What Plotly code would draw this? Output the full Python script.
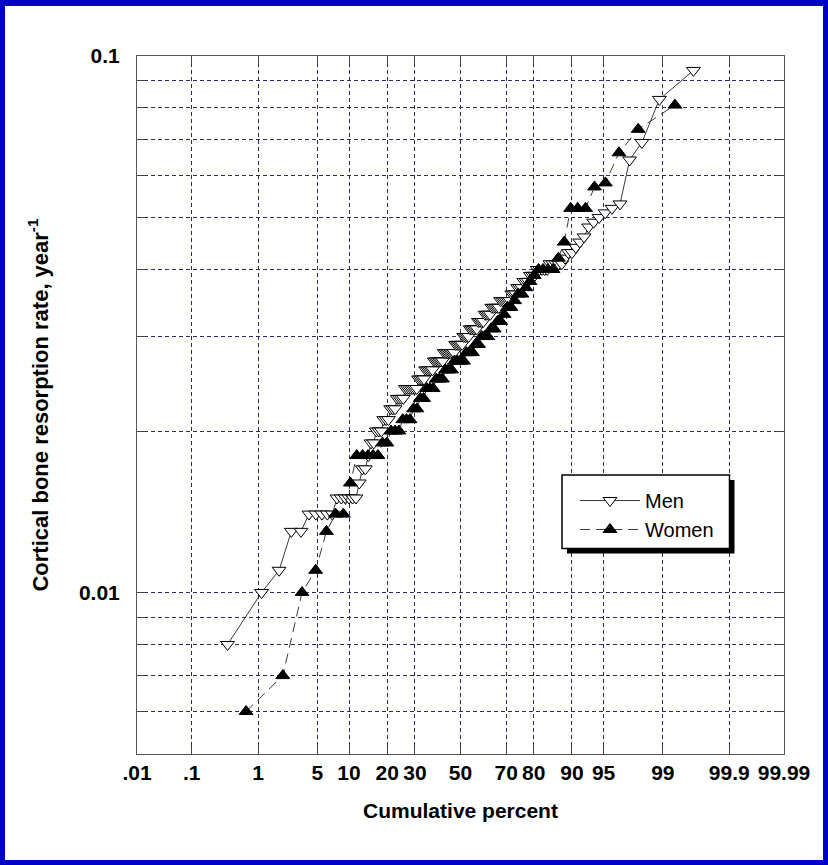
import math
import statistics
import plotly.graph_objects as go

# ---------------- data ----------------
men_rate = [
    0.008, 0.010, 0.011, 0.013, 0.013,
    0.014, 0.014, 0.014, 0.014, 0.014,
    0.015, 0.015, 0.015, 0.015, 0.015, 0.015,
    0.016, 0.017, 0.017, 0.018,
    0.019, 0.019, 0.020, 0.020, 0.020,
    0.021, 0.021, 0.021, 0.022, 0.022,
    0.022, 0.023, 0.023, 0.023, 0.023,
    0.024, 0.024, 0.024, 0.024, 0.024,
    0.024, 0.024, 0.025, 0.025, 0.025,
    0.025, 0.026, 0.026, 0.026, 0.026,
    0.026, 0.027, 0.027, 0.027, 0.027,
    0.027, 0.027, 0.028, 0.028, 0.028,
    0.028, 0.028, 0.028, 0.028, 0.029,
    0.029, 0.029, 0.029, 0.029, 0.030,
    0.030, 0.030, 0.030, 0.031, 0.031,
    0.031, 0.031, 0.031, 0.032, 0.032,
    0.032, 0.032, 0.033, 0.033, 0.033,
    0.033, 0.034, 0.034, 0.034, 0.034,
    0.034, 0.035, 0.035, 0.035, 0.035,
    0.035, 0.035, 0.036, 0.036, 0.036,
    0.037, 0.037, 0.037, 0.038, 0.038,
    0.038, 0.039, 0.039, 0.039, 0.040,
    0.040, 0.040, 0.040, 0.040, 0.041,
    0.041, 0.041, 0.041, 0.041, 0.042,
    0.043, 0.043, 0.044, 0.045, 0.046,
    0.048, 0.049, 0.050, 0.051, 0.052,
    0.053, 0.064, 0.069, 0.083, 0.094,
]

women_rate = [
    0.006, 0.007, 0.010, 0.011, 0.013,
    0.014, 0.014, 0.016, 0.018, 0.018,
    0.018, 0.018, 0.018, 0.019, 0.019,
    0.020, 0.020, 0.020, 0.021, 0.021,
    0.021, 0.022, 0.022, 0.023, 0.023,
    0.024, 0.024, 0.024, 0.025, 0.025,
    0.025, 0.026, 0.026, 0.026, 0.027,
    0.027, 0.027, 0.027, 0.028, 0.028,
    0.028, 0.029, 0.029, 0.030, 0.030,
    0.030, 0.031, 0.031, 0.032, 0.032,
    0.033, 0.034, 0.034, 0.035, 0.036,
    0.036, 0.037, 0.038, 0.039, 0.040,
    0.040, 0.040, 0.040, 0.042, 0.045,
    0.052, 0.052, 0.052, 0.057, 0.058,
    0.066, 0.073, 0.081,
]

pct_ticks = [0.01, 0.1, 1, 5, 10, 20, 30, 50, 70, 80, 90, 95, 99, 99.9, 99.99]
pct_labels = [".01", ".1", "1", "5", "10", "20", "30", "50", "70", "80", "90", "95", "99", "99.9", "99.99"]
y_grid = [0.006, 0.007, 0.008, 0.009, 0.01, 0.02, 0.03, 0.04, 0.05,
          0.06, 0.07, 0.08, 0.09, 0.1]
y_labeled = {0.01: "0.01", 0.1: "0.1"}

# ---------------- probability scale ----------------
nd = statistics.NormalDist()


def probit(p):
    return nd.inv_cdf(p / 100.0)


def cumulative_percent(values):
    n = len(values)
    return [(i + 0.5) / n * 100.0 for i in range(n)]


men_pct = cumulative_percent(sorted(men_rate))
women_pct = cumulative_percent(sorted(women_rate))

W, H = 828, 865
ML, MR, MT, MB = 137, 44, 56, 111
PW, PH = W - ML - MR, H - MT - MB


def px(x):
    return (x - ML) / PW


def py(y):
    return (H - MB - y) / PH


FONT = "Liberation Sans, Arial, sans-serif"
GRID = "#2b2b6e"

fig = go.Figure()
fig.add_trace(go.Scatter(
    x=[probit(p) for p in men_pct], y=sorted(men_rate),
    name="Men", mode="lines+markers",
    line=dict(color="#3a3a3a", width=1),
    marker=dict(symbol="triangle-down", size=12, color="white",
                line=dict(color="black", width=1)),
))
fig.add_trace(go.Scatter(
    x=[probit(p) for p in women_pct], y=sorted(women_rate),
    name="Women", mode="lines+markers",
    line=dict(color="#3a3a3a", width=1, dash="10px,6px"),
    marker=dict(symbol="triangle-up", size=12, color="black",
                line=dict(color="black", width=1)),
))

shapes = []
# legend shadow + box
shapes.append(dict(type="rect", xref="paper", yref="paper",
                   x0=px(567), x1=px(734.5), y0=py(553.5), y1=py(480),
                   fillcolor="black", line=dict(width=0), layer="above"))
shapes.append(dict(type="rect", xref="paper", yref="paper",
                   x0=px(562), x1=px(729.5), y0=py(548.5), y1=py(475),
                   fillcolor="white", line=dict(color="black", width=1.5), layer="above"))
# blue frame
BLUE = "#0000c8"
for (x0, x1, y0, y1) in [(0, W, 0, 6), (0, W, H - 5, H), (0, 5, 0, H), (W - 5, W, 0, H)]:
    shapes.append(dict(type="rect", xref="paper", yref="paper",
                       x0=px(x0), x1=px(x1), y0=py(y1), y1=py(y0),
                       fillcolor=BLUE, line=dict(width=0), layer="above"))

fig.update_layout(
    width=W, height=H,
    margin=dict(l=ML, r=MR, t=MT, b=MB, pad=0),
    paper_bgcolor="white", plot_bgcolor="white",
    font=dict(family=FONT, color="black"),
    showlegend=True,
    legend=dict(x=px(575), y=py(481), xanchor="left", yanchor="top",
                bgcolor="rgba(0,0,0,0)", borderwidth=0,
                font=dict(family=FONT, size=20, color="black"),
                itemwidth=60, tracegroupgap=0),
    shapes=shapes,
    xaxis=dict(
        range=[probit(pct_ticks[0]), probit(pct_ticks[-1])],
        tickmode="array",
        tickvals=[probit(p) for p in pct_ticks],
        ticktext=pct_labels,
        tickfont=dict(family=FONT, size=21, weight="bold"),
        ticks="inside", ticklen=8, tickcolor="#444",
        showline=True, linecolor="#555", linewidth=1, mirror="allticks",
        showgrid=True, gridcolor=GRID, griddash="4px,3px", gridwidth=1,
        zeroline=False,
        title=dict(text="Cumulative percent", standoff=20,
                   font=dict(family=FONT, size=21, weight="bold")),
    ),
    yaxis=dict(
        type="log",
        range=[math.log10(0.005), -1],
        tickmode="array",
        tickvals=y_grid,
        ticktext=[y_labeled.get(v, "") for v in y_grid],
        tickfont=dict(family=FONT, size=21, weight="bold"),
        ticklabelstandoff=12,
        ticks="inside", ticklen=8, tickcolor="#444",
        showline=True, linecolor="#555", linewidth=1, mirror="allticks",
        showgrid=True, gridcolor=GRID, griddash="4px,3px", gridwidth=1,
        zeroline=False,
        title=dict(text="Cortical bone resorption rate, year<sup>-1</sup>", standoff=24,
                   font=dict(family=FONT, size=22, weight="bold")),
    ),
)

fig.write_html("out.html")
